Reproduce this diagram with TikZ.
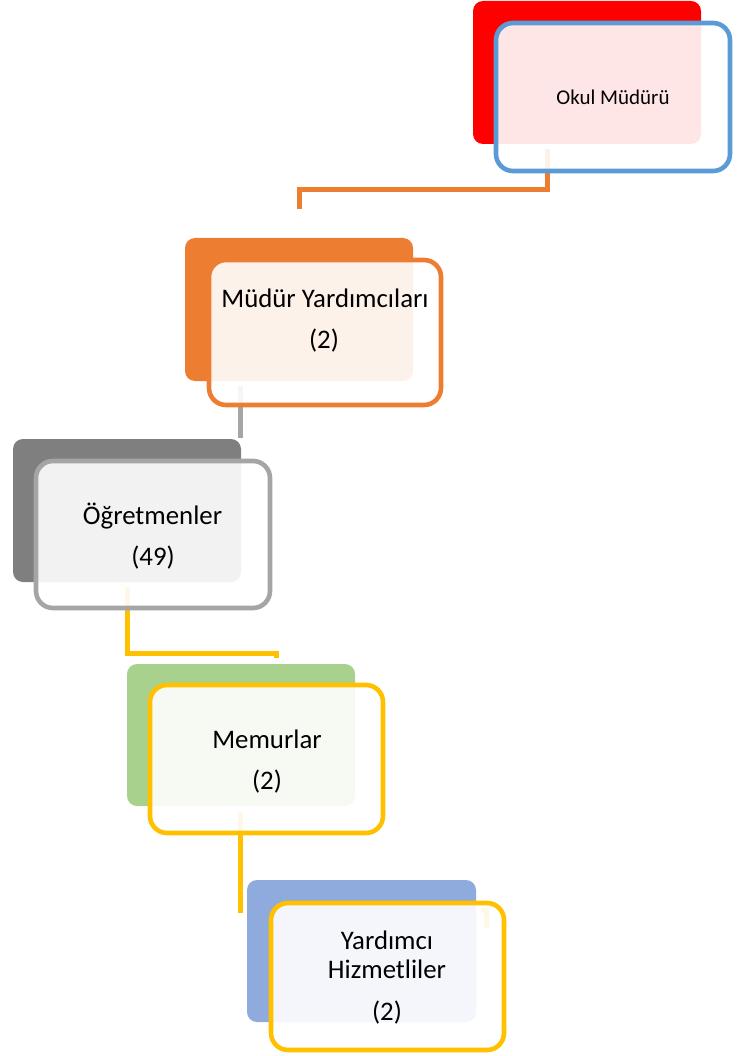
\documentclass[tikz,border=0pt]{standalone}
\usepackage{fontspec}
\setmainfont{Carlito}
\definecolor{cred}{HTML}{FF0000}
\definecolor{cblue}{HTML}{5B9BD5}
\definecolor{corange}{HTML}{ED7D31}
\definecolor{cgreyd}{HTML}{7F7F7F}
\definecolor{cgreyl}{HTML}{A5A5A5}
\definecolor{cgreen}{HTML}{A9D18E}
\definecolor{cyellow}{HTML}{FFC000}
\definecolor{cblueb}{HTML}{8FAADC}
\begin{document}
\begin{tikzpicture}[x=1pt,y=-1pt,
  backbox/.style={rounded corners=10pt, inner sep=0pt, outer sep=0pt, minimum width=228pt, minimum height=143pt},
  frontbox/.style={rounded corners=17pt, inner sep=0pt, outer sep=0pt, line width=4.6pt, fill=white, fill opacity=0.9, draw opacity=1, minimum width=234pt, minimum height=148pt},
  conn/.style={line width=5pt},
  lbl/.style={anchor=base, inner sep=0pt, font=\fontsize{26.8}{30}\selectfont},
  lbls/.style={anchor=base, inner sep=0pt, font=\fontsize{21}{25}\selectfont}]
\useasboundingbox (0,0) rectangle (747,1056);
% box 1
\node[backbox, fill=cred] (b1) at (587,72.5) {};
\coordinate (c1a) at (547,149);
\coordinate (c1b) at (299,209);
\draw[conn, corange] (c1a) |- (299,190) -- (c1b);
\node[frontbox, draw=cblue] (f1) at (613,97) {};
\node[lbls] (t1) at (613,105) {Okul Müdürü};
% box 2
\node[backbox, fill=corange] (b2) at (299,309.5) {};
\coordinate (c2a) at (240,386);
\coordinate (c2b) at (240,438);
\draw[conn, cgreyl] (c2a) -- (c2b);
\node[frontbox, draw=corange, minimum width=232pt, minimum height=145pt] (f2) at (325,332.5) {};
\node[lbl] (t2a) at (325,307) {Müdür Yardımcıları};
\node[lbl] (t2b) at (324,348) {(2)};
% box 3
\node[backbox, fill=cgreyd] (b3) at (127,510.5) {};
\coordinate (c3a) at (127,587);
\coordinate (c3b) at (276,658);
\draw[conn, cyellow] (c3a) |- (276,653) -- (c3b);
\node[frontbox, draw=cgreyl, minimum height=147pt] (f3) at (153,534.5) {};
\node[lbl] (t3a) at (152.5,524) {Öğretmenler};
\node[lbl] (t3b) at (153,565) {(49)};
% box 4
\node[backbox, fill=cgreen, minimum height=142pt] (b4) at (241,735) {};
\coordinate (c4a) at (240,812);
\coordinate (c4b) at (240,913);
\draw[conn, cyellow] (c4a) -- (c4b);
\node[frontbox, draw=cyellow, minimum width=233pt] (f4) at (266.5,759) {};
\node[lbl] (t4a) at (267,748) {Memurlar};
\node[lbl] (t4b) at (267,789) {(2)};
% box 5
\node[backbox, fill=cblueb, minimum width=229pt, minimum height=142pt] (b5) at (361.5,951) {};
\coordinate (c5a) at (481,910);
\coordinate (c5b) at (486,928);
\draw[conn, cyellow] (c5a) -| (c5b);
\node[frontbox, draw=cyellow, minimum width=233pt, minimum height=147pt] (f5) at (387.5,976.5) {};
\node[lbl] (t5a) at (387,949) {Yardımcı};
\node[lbl] (t5b) at (387,978) {Hizmetliler};
\node[lbl] (t5c) at (387,1020) {(2)};
\end{tikzpicture}
\end{document}
